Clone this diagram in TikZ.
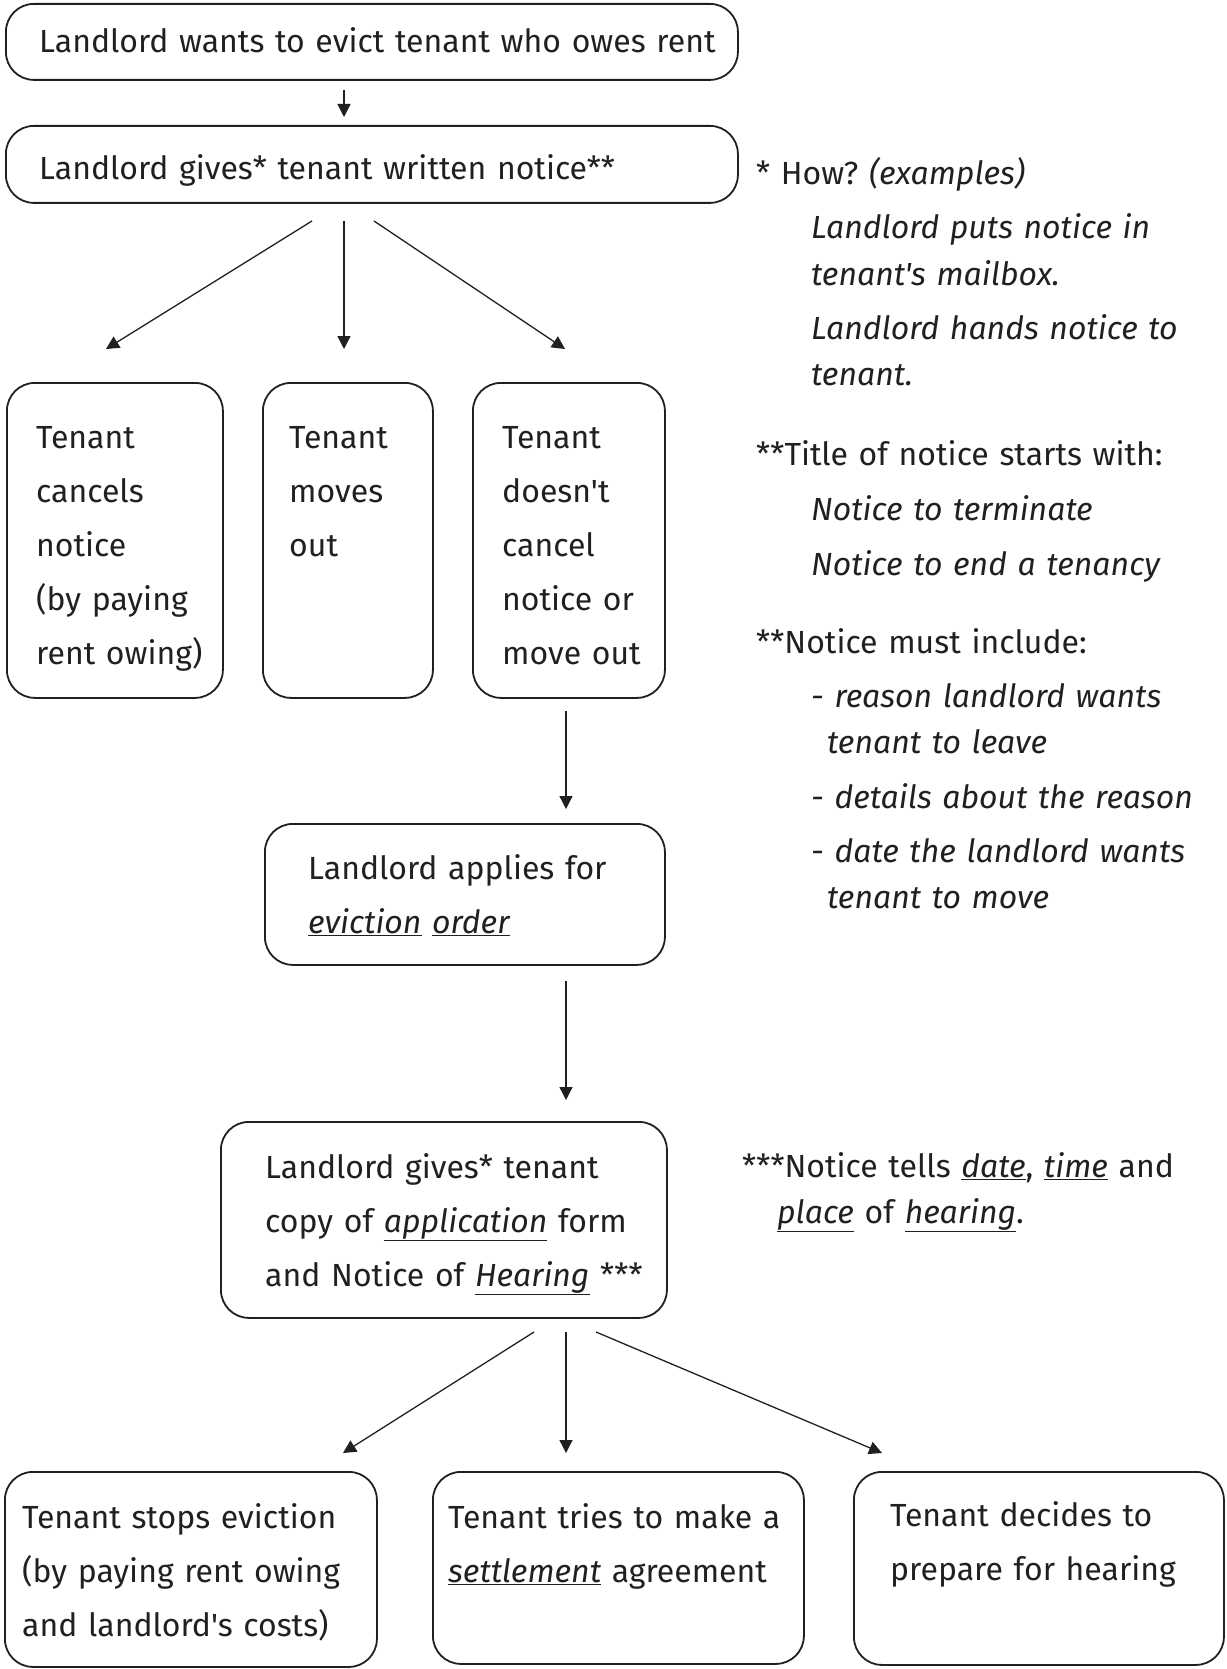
\documentclass[tikz,border=0pt]{standalone}
\usepackage{fontspec}
\setmainfont{Fira Sans}[Ligatures=TeXOff]
\usetikzlibrary{arrows.meta}
\definecolor{ink}{HTML}{231F20}
\newcommand{\ulit}[1]{\underline{\textit{#1}}}
\frenchspacing

\tikzset{
	stepbox/.style={draw=ink,line width=1.8pt,rounded corners=28pt,anchor=north west,inner sep=0pt},
	boxtext/.style={anchor=base west,align=left,text width=#1,inner sep=0pt,text=ink,font=\fontsize{32}{54}\selectfont},
	boxtext/.default=440pt,
	arr/.style={draw=ink,line width=1.3pt,-{Triangle[length=13pt,width=13pt]}}
}

\begin{document}
\begin{tikzpicture}[x=1pt,y=-1pt]
	\useasboundingbox (0,0) rectangle (1226,1669);
	
	%boxes
	\node[stepbox,minimum width=732pt,minimum height=76pt] (want) at (5,3) {};
	\node[stepbox,minimum width=732pt,minimum height=77pt] (give) at (5,125) {};
	\node[stepbox,minimum width=216pt,minimum height=315pt] (cancel) at (6,382) {};
	\node[stepbox,minimum width=170pt,minimum height=315pt] (moves) at (262,382) {};
	\node[stepbox,minimum width=192pt,minimum height=315pt] (stays) at (472,382) {};
	\node[stepbox,minimum width=400pt,minimum height=141pt] (applies) at (264,823) {};
	\node[stepbox,minimum width=446pt,minimum height=196pt] (hearing) at (220,1121) {};
	\node[stepbox,minimum width=372pt,minimum height=195pt] (stops) at (4,1471) {};
	\node[stepbox,minimum width=371pt,minimum height=192pt] (settle) at (432,1471) {};
	\node[stepbox,minimum width=370pt,minimum height=193pt] (prepare) at (853,1471) {};
	
	%box texts
	\node[boxtext=720pt] (wantT) at (39,53) {Landlord wants to evict tenant who owes rent};
	\node[boxtext=720pt] (giveT) at (39,180) {Landlord gives* tenant written notice**};
	\node[boxtext=200pt] (cancelT) at (36,448) {Tenant\\cancels\\notice\\(by paying\\rent owing)};
	\node[boxtext=160pt] (movesT) at (289,448) {Tenant\\moves\\out};
	\node[boxtext=180pt] (staysT) at (502,448) {Tenant\\doesn't\\cancel\\notice or\\move out};
	\node[boxtext=380pt] (appliesT) at (308,879) {Landlord applies for\\\ulit{eviction} \ulit{order}};
	\node[boxtext=420pt] (hearingT) at (265,1178) {Landlord gives* tenant\\copy of \ulit{application} form\\and Notice of \ulit{Hearing} ***};
	\node[boxtext=370pt] (stopsT) at (22,1528) {Tenant stops eviction\\(by paying rent owing\\and landlord's costs)};
	\node[boxtext=370pt] (settleT) at (448,1528) {Tenant tries to make a\\\ulit{settlement} agreement};
	\node[boxtext=370pt] (prepareT) at (890,1526) {Tenant decides to\\prepare for hearing};
	
	%notes
	\node[boxtext] (how) at (756,185) {* How? \textit{(examples)}};
	\node[boxtext] (how1) at (811,239) {\textit{Landlord puts notice in}};
	\node[boxtext] (how2) at (811,286) {\textit{tenant's mailbox.}};
	\node[boxtext] (how3) at (811,339) {\textit{Landlord hands notice to}};
	\node[boxtext] (how4) at (811,385) {\textit{tenant.}};
	\node[boxtext] (title) at (756,465) {**Title of notice starts with:};
	\node[boxtext] (title1) at (811,520) {\textit{Notice to terminate}};
	\node[boxtext] (title2) at (811,575) {\textit{Notice to end a tenancy}};
	\node[boxtext] (must) at (756,653) {**Notice must include:};
	\node[boxtext] (must1) at (811,707) {\textit{- reason landlord wants}};
	\node[boxtext] (must2) at (827,753) {\textit{tenant to leave}};
	\node[boxtext] (must3) at (811,808) {\textit{- details about the reason}};
	\node[boxtext] (must4) at (811,862) {\textit{- date the landlord wants}};
	\node[boxtext] (must5) at (827,908) {\textit{tenant to move}};
	\node[boxtext] (tells) at (742,1177) {***Notice tells \ulit{date}, \ulit{time} and};
	\node[boxtext] (tells1) at (777,1223) {\ulit{place} of \ulit{hearing}.};
	
	%arrow ends
	\coordinate (a0) at (344,90);   \coordinate (a1) at (344,117);
	\coordinate (b0) at (312,221);  \coordinate (b1) at (106,349);
	\coordinate (c0) at (344,221);  \coordinate (c1) at (344,349);
	\coordinate (d0) at (374,221);  \coordinate (d1) at (565,349);
	\coordinate (e0) at (566,711);  \coordinate (e1) at (566,809);
	\coordinate (f0) at (566,981);  \coordinate (f1) at (566,1100);
	\coordinate (g0) at (534,1332); \coordinate (g1) at (343,1453);
	\coordinate (h0) at (566,1332); \coordinate (h1) at (566,1453);
	\coordinate (k0) at (596,1332); \coordinate (k1) at (882,1453);
	
	%arrows
	\draw[arr] (a0)--(a1);
	\draw[arr] (b0)--(b1);
	\draw[arr] (c0)--(c1);
	\draw[arr] (d0)--(d1);
	\draw[arr] (e0)--(e1);
	\draw[arr] (f0)--(f1);
	\draw[arr] (g0)--(g1);
	\draw[arr] (h0)--(h1);
	\draw[arr] (k0)--(k1);
\end{tikzpicture}
\end{document}
